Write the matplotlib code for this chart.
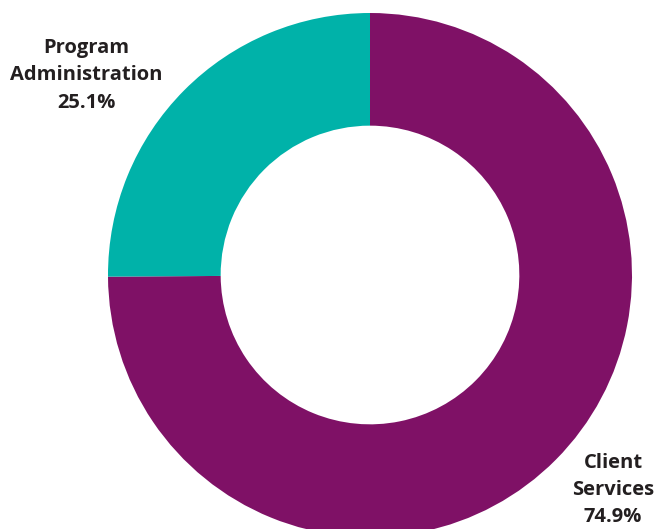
import matplotlib.pyplot as plt

labels = ["Client\nServices\n74.9%", "Program\nAdministration\n25.1%"]
shares = [74.9, 25.1]
colors = ["#7f1166", "#00b2a9"]

W, H = 660, 529
cx, cy, r = 370, 275, 262

fig = plt.figure(figsize=(W / 100, H / 100), dpi=100)
ax = fig.add_axes([0, 0, 1, 1])
ax.pie(shares, colors=colors, startangle=90, counterclock=False, radius=1,
       wedgeprops=dict(width=0.43, edgecolor="none"))
ax.set_xlim(-cx / r, (W - cx) / r)
ax.set_ylim(-(H - cy) / r, cy / r)
ax.set_aspect("equal")
ax.axis("off")

def px(x, y):
    return (x - cx) / r, (cy - y) / r

for text, (x, y) in zip(labels, [(613, 490), (86, 75)]):
    ax.text(*px(x, y), text, ha="center", va="center", fontsize=14.5,
            fontweight="bold", family="Open Sans", color="#231f20",
            linespacing=1.5)

fig.savefig("out.png", dpi=100)
